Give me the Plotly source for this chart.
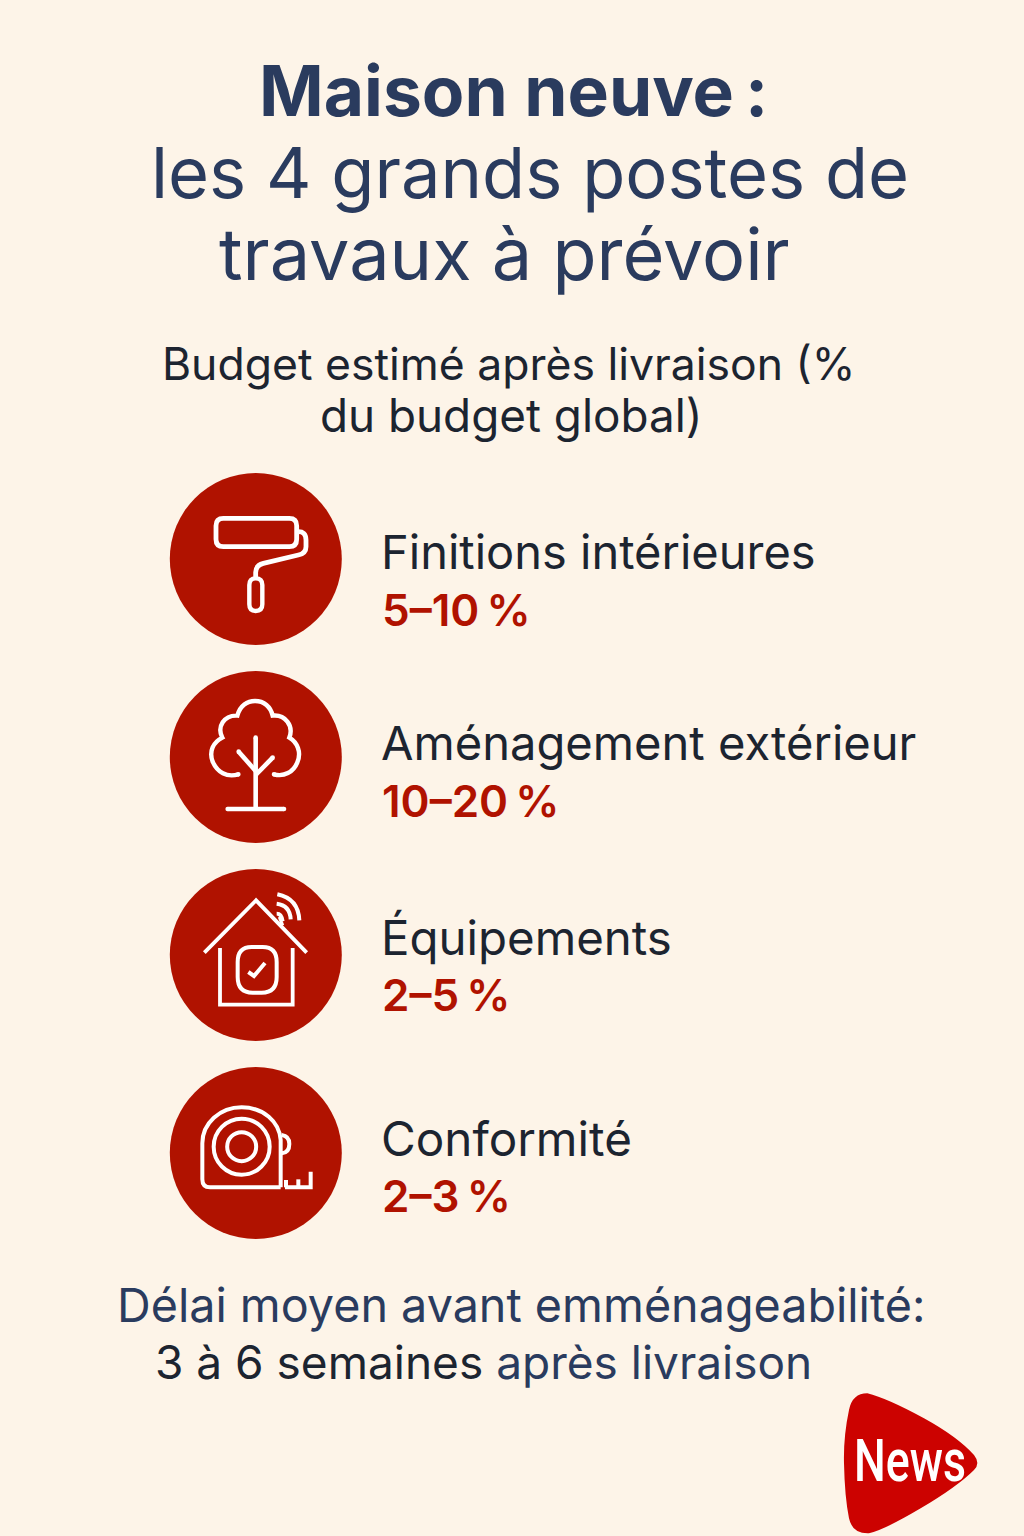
import re
import plotly.graph_objects as go

TITLE_LINES = ["Maison neuve\u202f:", "les 4 grands postes de", "travaux à prévoir"]
SUBTITLE_LINES = ["Budget estimé après livraison (%", "du budget global)"]
CATEGORIES = ["Finitions intérieures", "Aménagement extérieur", "Équipements", "Conformité"]
LOW = [5, 10, 2, 2]
HIGH = [10, 20, 5, 3]
FOOT_1 = "Délai moyen avant emménageabilité:"
FOOT_2_DARK = "3 à 6 semaines"
FOOT_2_NAVY = "après livraison"
LOGO = "News"

BG = "#FDF4E8"; NAVY = "#2A3B5E"; DARK = "#1C2430"; RED = "#B01200"; LOGO_RED = "#CC0200"
FONT = "Inter"

fig = go.Figure()
shapes = []; ann = []

def tr(ox, oy, d):
    nums = iter(range(100000))
    def rep(m):
        i = next(nums); v = float(m.group())
        return f"{(ox if i % 2 == 0 else oy) + v / 3:.2f}"
    return re.sub(r"-?\d+(?:\.\d+)?", rep, d)

def path(ox, oy, d, w=4.2, fill=None, color="white"):
    shapes.append(dict(type="path", path=tr(ox, oy, d), xref="x", yref="y",
                       line=dict(color=color, width=w),
                       fillcolor=fill if fill else "rgba(0,0,0,0)"))

def circ(cx, cy, r, fill=None, color="white", w=4.2):
    shapes.append(dict(type="circle", xref="x", yref="y", x0=cx-r, x1=cx+r, y0=cy-r, y1=cy+r,
                       fillcolor=fill if fill else "rgba(0,0,0,0)",
                       line=dict(color=color, width=w)))

def cap(ox, oy, zx, zy, w=4.2):
    circ(ox + zx/3, oy + zy/3, w/2, fill="white", w=0)

def text(x, base, s, size, color, anchor="left", weight=400, family=FONT):
    ann.append(dict(x=x, y=base - 0.41*size, xref="x", yref="y", text=s, showarrow=False,
                    xanchor=anchor, yanchor="middle", align=anchor,
                    font=dict(size=size, color=color, family=family, weight=weight)))

# title
text(513.5, 119, TITLE_LINES[0], 69.5, NAVY, "center", 700)
text(530, 201, TITLE_LINES[1], 70.4, NAVY, "center")
text(504, 283, TITLE_LINES[2], 72, NAVY, "center")
# subtitle
text(508, 382, SUBTITLE_LINES[0], 44.5, DARK, "center")
text(511, 434, SUBTITLE_LINES[1], 45.8, DARK, "center")

# rows
cy = [559, 757, 955, 1153]
name_base = [571, 762, 957, 1158]
val_base = [628, 819, 1013, 1214]
name_size = [47, 47.1, 47.4, 47.6]
for c in cy:
    circ(255.8, c, 86, fill=RED, w=0)
for i, cat in enumerate(CATEGORIES):
    text(379, name_base[i], cat, name_size[i], DARK)
    text(380, val_base[i], f"{LOW[i]}–{HIGH[i]}\u202f%", 44, RED, weight=600)

# roller
o = (160, 465)
path(*o, "M 190 160 L 388 160 Q 410 160 410 182 L 410 223 Q 410 245 388 245 L 190 245 Q 168 245 168 223 L 168 182 Q 168 160 190 160 Z", 4.8)
path(*o, "M 412 200 Q 438 198 438 225 L 438 245 Q 438 265 415 270 L 310 295 Q 288 300 287 322 L 287 340", 4.8)
path(*o, "M 287 340 Q 307 340 307 360 L 307 418 Q 307 438 287 438 Q 268 438 268 418 L 268 360 Q 268 340 287 340 Z", 4.4)
# tree
o = (160, 665)
path(*o, "M 235 328 C 200 338 172 322 158 290 C 146 258 160 232 187 218 C 170 185 192 150 232 152 C 240 122 262 108 285 108 C 312 108 332 125 338 152 C 375 148 402 182 388 218 C 412 232 425 262 412 292 C 400 322 372 336 342 328", 4.4)
path(*o, "M 287 218 L 287 432", 4.6)
path(*o, "M 236 260 L 287 318", 4.6)
path(*o, "M 338 278 L 287 330", 4.6)
path(*o, "M 203 432 L 372 432", 4.6)
for p in [(235,328),(342,328),(287,218),(236,260),(338,278),(203,432),(372,432)]:
    cap(*o, *p, w=4.6)
# house
o = (160, 862)
path(*o, "M 133 272 L 288 115 L 440 272", 3.8)
path(*o, "M 180 258 L 180 428 L 398 428 L 398 258", 3.8)
path(*o, "M 275 255 L 308 255 Q 350 255 350 300 L 350 345 Q 350 392 305 392 L 278 392 Q 233 392 233 345 L 233 300 Q 233 255 275 255 Z", 4)
path(*o, "M 265 330 L 282 342 L 315 303", 4)
path(*o, "M 352 97 Q 415 110 418 175", 4)
path(*o, "M 350 125 Q 390 130 392 172", 4)
path(*o, "M 350 155 Q 365 155 368 178", 3.8)
path(*o, "M 358 165 L 368 190", 3.2)
# tape
o = (160, 1060)
path(*o, "M 362 382 L 150 382 Q 127 382 127 358 L 127 250 C 127 190 180 142 245 142 C 310 142 358 185 362 240 L 362 382", 4)
circ(160 + 245/3, 1060 + 260/3, 28, w=4)
circ(160 + 245/3, 1060 + 260/3, 14.5, w=4)
path(*o, "M 365 225 Q 388 228 388 252 Q 388 278 365 280", 4)
path(*o, "M 375 382 L 452 382 L 452 335", 4)
path(*o, "M 378 382 L 378 360", 4)
path(*o, "M 415 382 L 415 358", 4)

# footer
text(521, 1324, FOOT_1, 46.7, NAVY, "center")
text(483, 1381, f"<span style='color:{DARK}'>{FOOT_2_DARK}</span> {FOOT_2_NAVY}", 46, NAVY, "center")

# logo
o = (824, 1380)
path(*o, "M 130 40 Q 85 40 75 90 Q 58 170 60 250 Q 62 350 75 415 Q 85 462 135 460 Q 180 450 290 385 Q 400 320 450 270 Q 470 250 450 225 Q 400 170 300 115 Q 190 55 130 40 Z", 0, fill=LOGO_RED, color=LOGO_RED)
text(909.5, 1485, LOGO, 60, "white", "center", 500, "Roboto")

fig.add_trace(go.Scatter(x=[0], y=[0], mode="markers", marker=dict(opacity=0), showlegend=False, hoverinfo="skip"))
fig.update_layout(width=1024, height=1536, margin=dict(l=0, r=0, t=0, b=0), paper_bgcolor=BG, plot_bgcolor=BG,
                  xaxis=dict(range=[0, 1024], visible=False, fixedrange=True),
                  yaxis=dict(range=[1536, 0], visible=False, fixedrange=True),
                  shapes=shapes, annotations=ann, showlegend=False)
squeeze = """
document.body.style.margin='0';
document.documentElement.style.background='%s';
document.querySelectorAll('.annotation-text').forEach(function(t){
  if(t.textContent==='%s'){
    var b=t.getBBox(), cx=b.x+b.width/2, k=112/b.width;
    t.setAttribute('transform','translate('+cx+' 0) scale('+k+' 1) translate('+(-cx)+' 0)');
  }
});
""" % (BG, LOGO)
fig.write_html("out.html", config=dict(displayModeBar=False), post_script=squeeze)
